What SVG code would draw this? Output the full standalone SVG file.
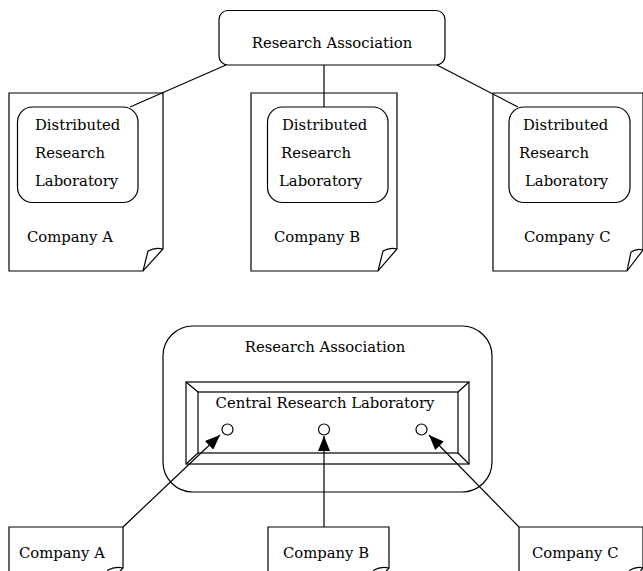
<svg xmlns="http://www.w3.org/2000/svg" width="643" height="571" viewBox="0 0 643 571">
  <style>
    .ln { fill: none; stroke: #000; stroke-width: 1.2; }
    .box { fill: #fff; stroke: #000; stroke-width: 1.2; }
    .lbl { font-family: "DejaVu Serif", "Liberation Serif", serif; font-size: 14.8px; fill: #000; }
    .mid { text-anchor: middle; }
  </style>
  <defs>
    <marker id="head" markerUnits="userSpaceOnUse" markerWidth="16" markerHeight="12" refX="15" refY="6" orient="auto">
      <path d="M0,0 L15,6 L0,12 Z" fill="#000"/>
    </marker>
  </defs>
  <rect width="643" height="571" fill="#fff"/>

  <!-- upper arrangement: association linked to distributed labs -->
  <g id="connectors-top">
    <line class="ln" x1="226" y1="65" x2="130" y2="107"/>
    <line class="ln" x1="324" y1="65" x2="324" y2="107"/>
    <line class="ln" x1="437" y1="65" x2="518" y2="107"/>
  </g>

  <g id="ra-top">
    <rect class="box" x="219" y="10.5" width="226" height="54.5" rx="9"/>
    <text class="lbl mid" x="332" y="48">Research Association</text>
  </g>

  <g id="company-a-top">
    <path class="ln" d="M9,93 H163 V249 L143,271 H9 Z"/>
    <path class="ln" d="M143,271 L148,251 Q155,247 163,249"/>
    <rect class="box" x="17.5" y="107" width="120.5" height="95.5" rx="15"/>
    <text class="lbl" x="35" y="130">Distributed</text>
    <text class="lbl" x="35" y="158">Research</text>
    <text class="lbl" x="35" y="186">Laboratory</text>
    <text class="lbl" x="27" y="242">Company A</text>
  </g>

  <g id="company-b-top">
    <path class="ln" d="M251,93 H397 V249 L378,271 H251 Z"/>
    <path class="ln" d="M378,271 L383,251 Q390,247 397,249"/>
    <rect class="box" x="267.5" y="107" width="120.5" height="95.5" rx="15"/>
    <text class="lbl" x="282" y="130">Distributed</text>
    <text class="lbl" x="281" y="158">Research</text>
    <text class="lbl" x="279" y="186">Laboratory</text>
    <text class="lbl" x="274" y="242">Company B</text>
  </g>

  <g id="company-c-top">
    <path class="ln" d="M493,93 H643 V250 L627,271 H493 Z"/>
    <path class="ln" d="M627,271 L631,252 Q637,248 643,250"/>
    <rect class="box" x="509" y="107" width="121" height="95.5" rx="15"/>
    <text class="lbl" x="523" y="130">Distributed</text>
    <text class="lbl" x="519" y="158">Research</text>
    <text class="lbl" x="525" y="186">Laboratory</text>
    <text class="lbl" x="524" y="242">Company C</text>
  </g>

  <!-- lower arrangement: association housing the central lab -->
  <g id="ra-bottom">
    <rect class="box" x="163" y="326" width="329" height="166" rx="30"/>
    <text class="lbl mid" x="325" y="352">Research Association</text>
  </g>

  <g id="central-lab">
    <rect class="box" x="186" y="382" width="283" height="82"/>
    <rect class="ln" x="198" y="392" width="260" height="61"/>
    <path class="ln" d="M186,382 L198,392 M469,382 L458,392 M186,464 L198,453 M469,464 L458,453"/>
    <text class="lbl mid" x="325" y="408">Central Research Laboratory</text>
    <circle class="ln" cx="227.5" cy="429.5" r="5.5" stroke-width="1"/>
    <circle class="ln" cx="324" cy="429.5" r="5.5" stroke-width="1"/>
    <circle class="ln" cx="421.5" cy="429.5" r="5.5" stroke-width="1"/>
  </g>

  <g id="connectors-bottom">
    <line class="ln" x1="123" y1="527" x2="220" y2="435" marker-end="url(#head)"/>
    <line class="ln" x1="324" y1="527" x2="324" y2="436" marker-end="url(#head)"/>
    <line class="ln" x1="519" y1="527" x2="429" y2="435" marker-end="url(#head)"/>
  </g>

  <g id="company-a-bottom">
    <path class="ln" d="M9,527 H123 V568 L103,590 H9 Z"/>
    <path class="ln" d="M103,590 L108,570 Q115,566 123,568"/>
    <text class="lbl" x="19" y="558">Company A</text>
  </g>

  <g id="company-b-bottom">
    <path class="ln" d="M268,527 H389 V568 L369,590 H268 Z"/>
    <path class="ln" d="M369,590 L374,570 Q381,566 389,568"/>
    <text class="lbl" x="283" y="558">Company B</text>
  </g>

  <g id="company-c-bottom">
    <path class="ln" d="M519,527 H643 V568 L625,590 H519 Z"/>
    <path class="ln" d="M625,590 L630,570 Q637,566 643,568"/>
    <text class="lbl" x="532" y="558">Company C</text>
  </g>
</svg>
